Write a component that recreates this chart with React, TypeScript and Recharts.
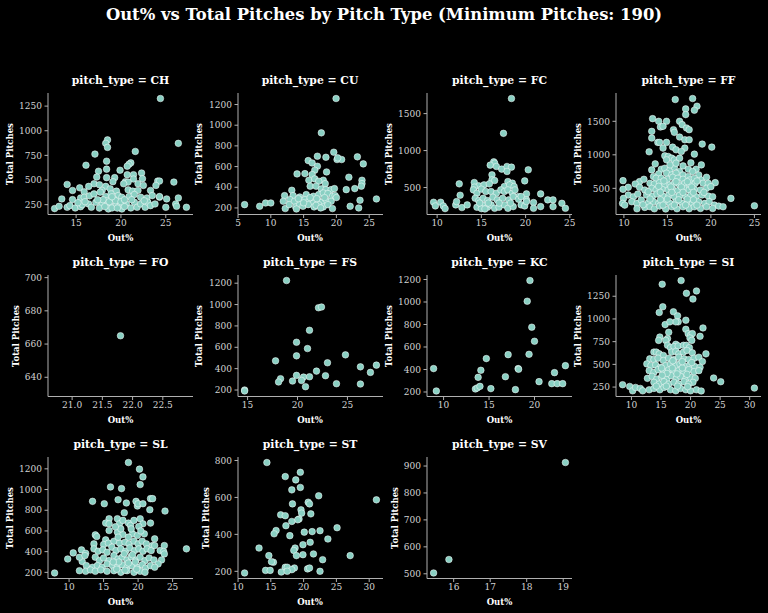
import React from 'react';
import { ScatterChart, Scatter, XAxis, YAxis } from 'recharts';

type Pt = [number, number];

const CH: Pt[] = [[24.4,1327],[26.4,872],[18.5,907],[18.3,872],[18.5,831],[17.1,763],[21.6,790],[16.1,650],[18.4,691],[21.1,674],[20.9,660],[20.7,640],[19.9,599],[17.5,589],[18.4,610],[20.7,554],[21.4,554],[22.3,571],[17.3,530],[18.4,524],[19.3,524],[19.1,483],[20.5,483],[21.4,510],[22.4,513],[14.0,455],[17.0,462],[17.6,452],[18.3,435],[20.8,479],[20.3,462],[21.9,462],[22.5,445],[24.1,489],[24.3,489],[25.9,479],[14.6,394],[15.4,421],[16.4,435],[15.9,380],[17.9,394],[18.8,411],[19.5,387],[20.8,400],[21.3,387],[21.9,394],[23.3,394],[23.9,445],[13.4,308],[14.6,301],[15.5,318],[15.9,325],[16.5,339],[17.0,359],[17.7,377],[18.3,332],[18.9,359],[19.7,342],[20.1,325],[20.9,332],[21.5,353],[22.2,325],[22.9,318],[23.5,342],[24.3,325],[12.6,210],[13.1,233],[14.0,223],[14.3,240],[14.9,216],[15.5,229],[15.7,250],[16.4,257],[16.7,223],[17.2,274],[17.9,250],[18.5,291],[18.8,240],[19.2,308],[18.6,206],[19.0,216],[19.5,257],[19.9,240],[20.1,206],[20.6,257],[21.1,216],[21.5,274],[21.8,223],[22.2,257],[22.7,223],[23.0,274],[23.3,240],[23.8,257],[24.3,332],[25.0,223],[25.1,308],[26.1,257],[26.4,318],[26.2,233],[27.3,223],[18.0,300],[18.7,280],[19.4,290],[20.0,280],[19.6,215],[20.4,230],[17.6,215],[18.2,230],[19.0,330],[20.4,300],[21.2,300],[16.0,280],[15.2,270],[22.6,290],[17.4,300]];

const CU: Pt[] = [[19.95,1258],[17.7,926],[17.1,700],[18.4,690],[19.6,739],[20.1,668],[20.8,668],[20.2,684],[23.2,694],[24.1,626],[15.7,658],[16.3,635],[17.1,603],[16.7,565],[16.3,523],[14.0,529],[15.2,532],[18.5,548],[21.9,497],[15.8,468],[16.7,481],[18.0,468],[17.3,458],[18.3,435],[16.0,410],[16.9,410],[23.9,468],[23.9,435],[23.8,410],[21.5,377],[22.8,387],[13.2,371],[17.7,384],[18.4,377],[19.2,377],[19.7,387],[12.1,319],[13.4,319],[14.4,306],[15.4,329],[16.5,313],[17.3,329],[18.0,345],[18.7,339],[19.4,313],[19.8,319],[11.9,264],[12.9,281],[13.6,264],[14.6,274],[15.2,281],[15.8,264],[16.5,248],[17.2,274],[17.8,255],[18.4,281],[19.2,264],[6.0,232],[8.3,216],[9.2,248],[10.0,248],[12.2,194],[12.8,232],[13.8,210],[14.4,232],[13.9,190],[14.9,216],[15.7,232],[16.6,210],[17.3,232],[18.0,210],[18.7,232],[19.4,194],[22.1,216],[23.4,200],[23.6,274],[26.1,287],[16.0,300],[17.0,290],[18.2,300],[15.0,250],[16.9,225],[17.6,200],[14.2,290],[20.0,300]];

const FC: Pt[] = [[18.4,1704],[17.5,1233],[16.4,848],[16.5,830],[16.0,803],[16.7,785],[17.3,749],[17.9,785],[18.4,776],[17.9,717],[20.3,740],[16.2,672],[16.2,604],[16.5,595],[19.9,590],[18.0,581],[18.5,559],[12.5,550],[14.2,568],[14.7,523],[15.3,536],[15.9,550],[14.2,505],[17.6,514],[18.2,536],[18.7,514],[12.6,396],[14.1,468],[14.5,423],[15.0,478],[15.5,446],[16.1,446],[16.7,423],[17.2,468],[17.6,446],[18.0,468],[18.5,423],[18.8,468],[19.2,378],[20.1,414],[21.7,414],[14.3,355],[14.7,323],[15.2,355],[15.7,323],[16.3,369],[16.8,333],[17.4,355],[18.1,333],[18.6,378],[19.2,341],[19.5,378],[20.1,333],[9.6,301],[9.8,251],[10.4,301],[10.7,251],[10.9,215],[12.1,265],[12.2,310],[12.8,229],[13.4,265],[14.5,233],[15.1,265],[15.7,233],[16.1,265],[15.0,215],[15.4,210],[16.5,219],[17.0,233],[17.6,265],[18.0,219],[18.6,242],[19.5,265],[19.9,251],[20.1,310],[20.9,297],[20.9,219],[21.7,242],[22.5,333],[23.1,333],[23.1,242],[24.1,287],[24.5,219],[17.0,290],[18.3,290],[15.8,290],[14.8,290]];

const FF: Pt[] = [[15.9,1825],[17.9,1840],[18.4,1725],[18.1,1665],[17.1,1685],[17.1,1600],[13.3,1540],[14.0,1500],[14.9,1500],[14.2,1415],[14.5,1425],[13.2,1350],[16.4,1500],[16.7,1450],[15.7,1375],[15.8,1335],[17.2,1400],[17.5,1375],[13.2,1250],[16.4,1265],[17.0,1225],[17.5,1225],[13.9,1185],[14.1,1185],[14.9,1185],[14.5,1100],[15.6,1115],[16.0,1075],[17.0,1100],[19.0,1160],[20.1,1115],[12.9,1045],[16.6,1050],[18.1,1010],[14.7,985],[15.1,975],[15.5,950],[14.9,925],[15.8,925],[16.4,950],[13.6,865],[16.8,835],[17.4,785],[18.3,785],[18.9,850],[14.3,785],[14.7,800],[15.3,775],[15.8,815],[13.2,775],[16.4,750],[17.9,750],[14.0,715],[14.9,725],[15.5,700],[16.0,725],[16.8,700],[17.4,675],[18.6,700],[13.4,675],[13.7,650],[14.3,650],[15.0,635],[15.6,665],[16.2,650],[16.8,635],[17.6,625],[18.1,650],[18.9,625],[19.5,665],[9.9,615],[11.8,600],[12.3,635],[19.1,575],[19.7,575],[20.5,585],[13.0,575],[13.5,565],[14.1,585],[14.7,550],[15.3,550],[15.8,575],[16.4,550],[17.0,575],[17.6,550],[18.2,575],[11.3,565],[10.5,515],[9.9,485],[11.8,515],[12.4,475],[13.2,500],[13.7,475],[14.4,485],[15.1,475],[15.6,485],[16.2,465],[16.9,495],[17.5,475],[18.1,485],[18.8,475],[19.5,500],[20.0,525],[10.5,400],[9.95,350],[11.1,375],[11.6,415],[12.6,400],[13.3,385],[13.8,415],[14.5,385],[15.2,400],[15.8,375],[16.4,395],[17.1,375],[17.7,400],[18.3,375],[19.0,400],[19.7,385],[20.2,375],[9.85,275],[10.1,250],[10.9,300],[11.5,275],[12.0,325],[12.8,285],[13.4,300],[14.0,275],[14.7,300],[15.3,275],[16.0,300],[16.7,275],[17.4,300],[17.9,275],[18.6,300],[19.3,275],[19.8,300],[20.4,250],[11.5,195],[12.4,215],[13.0,225],[13.5,195],[14.1,235],[14.8,192],[15.5,225],[16.1,195],[16.8,225],[17.5,195],[18.1,225],[18.8,200],[19.5,225],[20.2,200],[20.9,235],[21.4,225],[22.3,350],[25.0,240],[15.0,340],[16.3,330],[17.3,340],[18.0,330],[14.2,330],[13.0,340],[12.2,255],[15.8,250],[17.1,250],[18.4,250],[14.5,250],[16.6,520],[15.4,520],[17.8,520],[14.0,530],[16.0,600],[17.3,600],[14.6,610],[18.4,610],[15.3,850],[17.7,880],[16.0,875],[14.2,440],[15.5,440],[16.8,440],[18.0,440],[19.2,440],[12.8,450]];

const FO: Pt[] = [[21.8,665]];

const FS: Pt[] = [[18.9,1225],[22.1,970],[22.4,977],[21.2,759],[19.9,647],[21.0,588],[19.9,520],[24.8,529],[17.8,473],[23.0,455],[21.9,377],[26.3,417],[27.9,433],[27.3,365],[19.9,337],[22.8,334],[18.3,306],[18.1,275],[20.6,321],[21.2,324],[20.4,290],[19.5,284],[20.8,231],[23.9,259],[26.3,256],[14.7,200],[14.7,191]];

const KC: Pt[] = [[8.9,408],[9.2,209],[13.5,227],[13.7,236],[13.8,330],[14.1,393],[14.0,250],[14.7,497],[15.2,230],[17.1,532],[16.8,336],[18.2,408],[18.25,402],[17.9,221],[19.2,1007],[19.5,1191],[19.7,776],[19.4,535],[20.0,651],[20.5,292],[21.9,274],[22.5,274],[23.1,274],[22.2,372],[23.4,434]];

const SI: Pt[] = [[15.2,1382],[18.4,1423],[21.0,1308],[20.4,1219],[19.3,1282],[15.3,1134],[14.7,1071],[17.1,1079],[17.8,1034],[17.9,968],[17.5,968],[19.2,986],[15.7,938],[16.5,968],[22.1,901],[19.2,886],[19.6,838],[20.0,820],[20.3,838],[16.3,853],[14.8,801],[14.6,764],[21.6,809],[19.9,790],[20.2,764],[16.1,783],[15.8,764],[16.1,710],[16.6,684],[17.5,721],[17.2,695],[17.9,703],[18.8,710],[19.3,710],[19.8,684],[13.8,635],[14.2,635],[14.7,616],[15.4,598],[16.8,635],[17.5,642],[18.0,616],[18.8,635],[19.4,653],[20.3,627],[22.6,616],[13.1,561],[13.8,553],[14.5,568],[15.4,542],[16.3,568],[17.2,553],[18.0,579],[18.9,561],[19.7,553],[20.6,568],[21.4,579],[22.0,531],[12.6,505],[13.3,487],[14.1,494],[14.9,468],[15.8,487],[16.6,505],[17.5,487],[18.2,505],[19.0,479],[19.9,494],[20.7,476],[21.6,468],[13.0,431],[13.8,413],[14.5,442],[15.5,420],[16.3,439],[17.2,413],[18.0,431],[18.9,413],[19.7,442],[20.6,420],[21.4,431],[12.7,346],[13.5,368],[14.3,339],[15.1,357],[16.0,339],[16.7,376],[17.6,346],[18.3,368],[19.2,339],[20.0,357],[20.8,346],[20.4,302],[13.8,302],[14.7,283],[15.5,309],[16.3,283],[17.2,302],[18.0,283],[18.9,309],[19.7,283],[8.5,276],[9.7,257],[10.2,209],[10.7,246],[11.5,235],[11.9,209],[13.0,220],[13.8,235],[14.8,220],[15.5,246],[16.6,220],[17.5,209],[18.3,235],[19.2,220],[20.0,209],[21.0,220],[21.8,207],[23.9,350],[25.1,309],[30.8,239],[14.2,260],[15.9,260],[17.8,260],[19.5,255],[16.0,400],[17.7,395],[19.4,390],[15.2,380],[18.6,460],[16.9,460],[15.1,460],[17.0,540],[18.6,530],[20.2,520]];

const SL: Pt[] = [[18.6,1261],[20.2,1197],[20.7,1122],[20.3,1048],[16.0,1025],[17.6,1009],[13.4,886],[15.1,863],[17.1,902],[18.3,870],[19.7,886],[19.9,841],[20.0,863],[20.7,863],[21.8,912],[22.1,912],[21.7,805],[23.9,792],[18.0,776],[15.8,718],[15.3,676],[15.8,669],[17.0,718],[17.3,669],[17.8,702],[18.6,676],[18.9,653],[19.4,702],[20.3,718],[20.7,669],[20.1,643],[21.8,676],[15.8,604],[13.8,562],[14.0,546],[17.0,588],[17.8,566],[19.2,572],[19.9,556],[20.9,572],[22.4,524],[15.3,514],[13.6,475],[15.0,469],[15.7,482],[16.5,501],[17.3,482],[18.1,491],[18.7,475],[19.4,501],[20.0,475],[20.6,501],[21.2,475],[22.1,459],[11.8,417],[12.4,384],[11.9,304],[10.6,388],[9.8,329],[13.6,427],[14.2,404],[14.9,417],[15.5,394],[16.2,443],[16.8,410],[17.5,427],[18.2,404],[18.8,436],[19.5,410],[20.1,427],[20.7,404],[21.3,427],[21.9,410],[22.4,459],[23.2,410],[23.8,459],[23.7,401],[23.8,378],[27.0,427],[11.5,346],[12.3,362],[13.8,346],[14.4,313],[15.0,339],[15.8,313],[16.5,362],[17.1,329],[17.7,346],[18.4,320],[19.0,352],[19.7,320],[20.3,346],[21.0,313],[21.6,339],[22.3,320],[23.4,320],[22.9,281],[12.5,265],[13.4,249],[14.1,265],[14.8,249],[15.5,281],[16.3,265],[17.0,249],[17.7,274],[18.4,249],[19.1,265],[19.9,249],[20.6,274],[21.1,242],[21.8,265],[22.4,249],[11.5,216],[12.4,210],[13.1,223],[13.8,210],[14.6,223],[15.5,210],[16.5,216],[17.5,200],[18.4,216],[19.4,200],[20.3,210],[21.0,200],[7.9,194],[17.2,300],[18.6,290],[19.6,300],[16.4,300],[18.0,380],[19.2,370],[17.1,540],[18.6,540],[17.5,620],[19.0,620],[16.7,640],[20.4,600],[18.1,220],[19.8,230],[16.9,230]];

const ST: Pt[] = [[14.4,789],[17.2,713],[18.8,695],[19.5,736],[19.5,654],[18.2,641],[18.3,565],[22.3,609],[20.7,574],[20.9,565],[21.1,511],[31.1,587],[16.5,506],[17.2,501],[19.6,533],[19.7,515],[19.3,483],[19.1,479],[18.2,470],[17.3,447],[17.9,393],[15.8,421],[15.5,403],[20.1,412],[21.3,415],[22.5,420],[25.1,436],[23.7,375],[21.0,357],[13.2,326],[19.9,344],[18.7,326],[18.5,313],[18.9,285],[21.5,294],[27.1,285],[19.9,290],[14.7,285],[15.4,249],[15.1,252],[22.9,263],[17.2,222],[17.5,222],[18.6,218],[18.2,209],[14.2,205],[14.9,205],[16.6,196],[17.5,200],[20.6,213],[20.9,218],[22.5,200],[11.0,191]];

const SV: Pt[] = [[15.45,503],[15.87,553],[19.06,913]];

const CH_X = [15, 20, 25];
const CH_Y = [250, 500, 750, 1000, 1250];
const CU_X = [5, 10, 15, 20, 25];
const CU_Y = [200, 400, 600, 800, 1000, 1200];
const FC_X = [10, 15, 20, 25];
const FC_Y = [500, 1000, 1500];
const FF_X = [10, 15, 20, 25];
const FF_Y = [500, 1000, 1500];
const FO_X = [21.0, 21.5, 22.0, 22.5];
const FO_Y = [640, 660, 680, 700];
const FS_X = [15, 20, 25];
const FS_Y = [200, 400, 600, 800, 1000, 1200];
const KC_X = [10, 15, 20];
const KC_Y = [200, 400, 600, 800, 1000, 1200];
const SI_X = [10, 15, 20, 25, 30];
const SI_Y = [250, 500, 750, 1000, 1250];
const SL_X = [10, 15, 20, 25];
const SL_Y = [200, 400, 600, 800, 1000, 1200];
const ST_X = [10, 15, 20, 25, 30];
const ST_Y = [200, 400, 600, 800];
const SV_X = [16, 17, 18, 19];
const SV_Y = [500, 600, 700, 800, 900];

const PITCH_TYPES = ['CH', 'CU', 'FC', 'FF', 'FO', 'FS', 'KC', 'SI', 'SL', 'ST', 'SV'];
const SERIES: Pt[][] = [CH, CU, FC, FF, FO, FS, KC, SI, SL, ST, SV];
const X_TICKS = [CH_X, CU_X, FC_X, FF_X, FO_X, FS_X, KC_X, SI_X, SL_X, ST_X, SV_X];
const Y_TICKS = [CH_Y, CU_Y, FC_Y, FF_Y, FO_Y, FS_Y, KC_Y, SI_Y, SL_Y, ST_Y, SV_Y];

const TITLE = 'Out% vs Total Pitches by Pitch Type (Minimum Pitches: 190)';

const FONT = "'DejaVu Serif', 'Liberation Serif', serif";
const COL_LEFT = [48, 237.5, 427, 616];
const ROW_TOP = [93, 275, 457];
const PW = 145;
const PH = 121.5;
const YAXIS_W = 50;
const XAXIS_H = 20;
const MT = 6;
const MR = 6;
const AXIS_COLOR = '#b0b0b0';
const TICK_COLOR = '#d4d4d4';
const DOT = '#8ad0c3';

function limits(vals: number[]): [number, number] {
  let lo = Math.min(...vals);
  let hi = Math.max(...vals);
  if (lo === hi) {
    const d = Math.abs(lo) * 0.05;
    lo -= d;
    hi += d;
  }
  const p = (hi - lo) * 0.05;
  return [lo - p, hi + p];
}

const Dot = (p: any) => {
  if (p.cx == null || p.cy == null) return null;
  return <circle cx={p.cx} cy={p.cy} r={3.3} fill={DOT} stroke="#ffffff" strokeWidth={0.5} />;
};

function Panel({ idx }: { idx: number }) {
  const pts = SERIES[idx];
  const col = idx % 4;
  const row = Math.floor(idx / 4);
  const L = COL_LEFT[col];
  const T = ROW_TOP[row];
  const data = pts.map(([x, y]) => ({ x, y }));
  const xd = limits(pts.map((p) => p[0]));
  const yd = limits(pts.map((p) => p[1]));
  const xt = X_TICKS[idx];
  const yt = Y_TICKS[idx];
  const fmtX = PITCH_TYPES[idx] === 'FO' ? (v: number) => v.toFixed(1) : (v: number) => String(v);
  const maxLen = Math.max(...yt.map((v) => String(v).length));
  const yLabOff = maxLen >= 4 ? 38.5 : 32;
  const tickStyle = { fill: TICK_COLOR, fontSize: 9, fontFamily: FONT };
  return (
    <>
      <div style={{ position: 'absolute', left: L - YAXIS_W, top: T - MT }}>
        <ScatterChart
          width={YAXIS_W + PW + MR}
          height={MT + PH + XAXIS_H}
          margin={{ top: MT, right: MR, bottom: 0, left: 0 }}
        >
          <XAxis
            type="number"
            dataKey="x"
            domain={xd}
            ticks={xt}
            allowDataOverflow
            interval={0}
            tickFormatter={fmtX}
            height={XAXIS_H}
            tickSize={3.5}
            tickMargin={2}
            stroke={AXIS_COLOR}
            tick={tickStyle}
          />
          <YAxis
            type="number"
            dataKey="y"
            domain={yd}
            ticks={yt}
            allowDataOverflow
            interval={0}
            width={YAXIS_W}
            tickSize={3.5}
            tickMargin={2.5}
            stroke={AXIS_COLOR}
            tick={tickStyle}
          />
          <Scatter data={data} isAnimationActive={false} shape={Dot} />
        </ScatterChart>
      </div>
      <div
        style={{
          position: 'absolute',
          left: L + PW / 2,
          top: T - 12,
          transform: 'translate(-50%, -50%)',
          color: '#ffffff',
          fontFamily: FONT,
          fontWeight: 'bold',
          fontSize: 10.8,
          whiteSpace: 'nowrap',
          lineHeight: 1,
        }}
      >
        {'pitch_type = ' + PITCH_TYPES[idx]}
      </div>
      <div
        style={{
          position: 'absolute',
          left: L + PW / 2,
          top: T + PH + 23.5,
          transform: 'translate(-50%, -50%)',
          color: '#ffffff',
          fontFamily: FONT,
          fontWeight: 'bold',
          fontSize: 8.5,
          whiteSpace: 'nowrap',
          lineHeight: 1,
        }}
      >
        Out%
      </div>
      <div
        style={{
          position: 'absolute',
          left: L - yLabOff,
          top: T + PH / 2,
          transform: 'translate(-50%, -50%) rotate(-90deg)',
          color: '#ffffff',
          fontFamily: FONT,
          fontWeight: 'bold',
          fontSize: 8.5,
          whiteSpace: 'nowrap',
          lineHeight: 1,
        }}
      >
        Total Pitches
      </div>
    </>
  );
}

export default function App() {
  return (
    <div
      style={{
        position: 'absolute',
        left: 0,
        top: 0,
        width: 768,
        height: 613,
        background: '#000000',
        overflow: 'hidden',
      }}
    >
      <div
        style={{
          position: 'absolute',
          left: 384,
          top: 15,
          transform: 'translate(-50%, -50%)',
          color: '#ffffff',
          fontFamily: FONT,
          fontWeight: 'bold',
          fontSize: 16.4,
          whiteSpace: 'nowrap',
          lineHeight: 1,
        }}
      >
        {TITLE}
      </div>
      {PITCH_TYPES.map((_, i) => (
        <Panel key={i} idx={i} />
      ))}
    </div>
  );
}
